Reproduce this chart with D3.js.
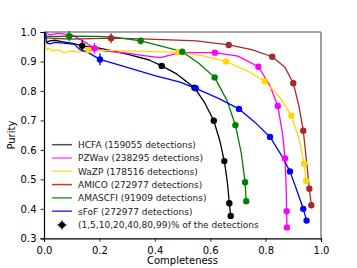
<!DOCTYPE html>
<html><head><meta charset="utf-8">
<script src="https://cdn.jsdelivr.net/npm/d3@7"></script>
<style>body{margin:0;background:#fff}svg{display:block}text{font-family:"DejaVu Sans",sans-serif}</style>
</head><body><svg id="c" width="357" height="268"></svg>
<script>
const names = ["HCFA (159055 detections)","PZWav (238295 detections)","WaZP (178516 detections)","AMICO (272977 detections)","AMASCFI (91909 detections)","sFoF (272977 detections)"];
const colors = ["#000000","#ff00ff","#ffd700","#a52a2a","#008000","#0000ff"];
const legendColors = ["#505050","#ff55ff","#ffe040","#d93030","#30a030","#3333ff"];
const xTicks = [0.0,0.2,0.4,0.6,0.8,1.0];
const yTicks = [0.3,0.4,0.5,0.6,0.7,0.8,0.9,1.0];
const markerLabel = "(1,5,10,20,40,80,99)% of the detections";

const hcfaLine = [[0.005,1.0],[0.01,0.965],[0.02,0.97],[0.04,0.972],[0.06,0.968],[0.08,0.965],[0.1,0.962],[0.138,0.953],[0.2,0.945],[0.3,0.925],[0.38,0.905],[0.425,0.885],[0.48,0.857],[0.543,0.811],[0.58,0.76],[0.613,0.699],[0.635,0.63],[0.651,0.562],[0.662,0.49],[0.669,0.419],[0.674,0.376]];
const hcfaMarks = [[0.138,0.953],[0.425,0.885],[0.543,0.811],[0.613,0.699],[0.651,0.562],[0.669,0.419],[0.674,0.376]];
const hcfaErr = [[0,0.018],[0,0.006],[0,0],[0,0],[0,0],[0,0],[0,0]];

const pzwavLine = [[0.005,1.0],[0.02,0.99],[0.05,0.995],[0.1,0.99],[0.14,0.97],[0.182,0.945],[0.22,0.935],[0.3,0.928],[0.36,0.92],[0.42,0.913],[0.47,0.925],[0.52,0.93],[0.617,0.93],[0.7,0.918],[0.774,0.882],[0.815,0.82],[0.844,0.749],[0.862,0.65],[0.87,0.571],[0.874,0.48],[0.876,0.392],[0.877,0.337]];
const pzwavMarks = [[0.182,0.945],[0.617,0.93],[0.774,0.882],[0.844,0.749],[0.87,0.571],[0.876,0.392],[0.877,0.337]];
const pzwavErr = [[0.012,0.018],[0,0],[0,0],[0,0],[0,0],[0,0],[0,0]];

const wazpLine = [[0.003,0.99],[0.008,0.94],[0.02,0.945],[0.03,0.935],[0.05,0.94],[0.07,0.93],[0.1,0.935],[0.13,0.932],[0.16,0.939],[0.25,0.937],[0.35,0.935],[0.483,0.931],[0.57,0.92],[0.657,0.9],[0.73,0.87],[0.797,0.833],[0.85,0.78],[0.893,0.716],[0.92,0.64],[0.939,0.553],[0.946,0.495]];
const wazpMarks = [[0.16,0.939],[0.483,0.931],[0.657,0.9],[0.797,0.833],[0.893,0.716],[0.939,0.553],[0.946,0.495]];
const wazpErr = [[0,0.01],[0,0],[0,0],[0,0],[0,0],[0,0],[0,0]];

const amicoLine = [[0.003,0.98],[0.05,0.978],[0.1,0.976],[0.242,0.979],[0.35,0.977],[0.455,0.973],[0.55,0.97],[0.667,0.956],[0.75,0.94],[0.824,0.916],[0.87,0.88],[0.9,0.826],[0.92,0.75],[0.936,0.665],[0.948,0.56],[0.958,0.468],[0.965,0.412]];
const amicoMarks = [[0.242,0.979],[0.667,0.956],[0.824,0.916],[0.9,0.826],[0.936,0.665],[0.958,0.468],[0.965,0.412]];
const amicoErr = [[0.015,0.017],[0,0],[0,0],[0,0],[0,0],[0,0],[0,0]];

const amascfiLine = [[0.003,1.0],[0.01,0.985],[0.05,0.985],[0.091,0.986],[0.2,0.985],[0.26,0.982],[0.349,0.97],[0.42,0.953],[0.499,0.933],[0.56,0.893],[0.616,0.846],[0.66,0.769],[0.691,0.684],[0.712,0.59],[0.726,0.49],[0.73,0.426]];
const amascfiMarks = [[0.091,0.986],[0.349,0.97],[0.499,0.933],[0.616,0.846],[0.691,0.684],[0.726,0.49],[0.73,0.426]];
const amascfiErr = [[0,0.017],[0,0.012],[0,0],[0,0],[0,0],[0,0],[0,0]];

const sfofLine = [[0.003,1.0],[0.01,0.963],[0.02,0.96],[0.04,0.965],[0.07,0.962],[0.11,0.958],[0.13,0.94],[0.16,0.93],[0.202,0.907],[0.3,0.88],[0.4,0.852],[0.491,0.83],[0.548,0.809],[0.63,0.775],[0.704,0.739],[0.76,0.695],[0.816,0.644],[0.855,0.585],[0.888,0.527],[0.91,0.47],[0.936,0.4],[0.948,0.36]];
const sfofMarks = [[0.202,0.907],[0.548,0.809],[0.704,0.739],[0.816,0.644],[0.888,0.527],[0.936,0.4],[0.948,0.36]];
const sfofErr = [[0,0.02],[0,0],[0,0],[0,0],[0,0],[0,0],[0,0]];

const lines = [hcfaLine,pzwavLine,wazpLine,amicoLine,amascfiLine,sfofLine];
const marks = [hcfaMarks,pzwavMarks,wazpMarks,amicoMarks,amascfiMarks,sfofMarks];
const errs = [hcfaErr,pzwavErr,wazpErr,amicoErr,amascfiErr,sfofErr];

const svg = d3.select("#c");
const L=44, R=321, T=32, B=238.3;
const x = d3.scaleLinear().domain([0,1]).range([L,R]);
const y = d3.scaleLinear().domain([0.3,1.0]).range([B,T]);

svg.append("line").attr("x1",L).attr("x2",R).attr("y1",T).attr("y2",T).attr("stroke","#888").attr("stroke-width",1.6);
svg.append("line").attr("x1",R).attr("x2",R).attr("y1",T).attr("y2",B).attr("stroke","#888").attr("stroke-width",1.6);

const lineGen = d3.line().x(d=>x(d[0])).y(d=>y(d[1]));
lines.forEach((ln,i)=>{
  svg.append("path").datum(ln).attr("d",lineGen).attr("fill","none").attr("stroke",colors[i]).attr("stroke-width",1.3).attr("stroke-linejoin","round");
});
marks.forEach((mk,i)=>{
  const g = svg.append("g");
  mk.forEach((p,j)=>{
    const e = errs[i][j];
    if(e[1]>0) g.append("line").attr("x1",x(p[0])).attr("x2",x(p[0])).attr("y1",y(p[1]-e[1])).attr("y2",y(p[1]+e[1])).attr("stroke",colors[i]).attr("stroke-width",1.3);
    if(e[0]>0) g.append("line").attr("x1",x(p[0]-e[0])).attr("x2",x(p[0]+e[0])).attr("y1",y(p[1])).attr("y2",y(p[1])).attr("stroke",colors[i]).attr("stroke-width",1.3);
    g.append("circle").attr("cx",x(p[0])).attr("cy",y(p[1])).attr("r",3.2).attr("fill",colors[i]);
  });
});

const xa = svg.append("g").attr("transform",`translate(0,${B})`).call(d3.axisBottom(x).tickValues(xTicks).tickFormat(d3.format(".1f")).tickSizeOuter(0).tickSize(3.5));
const ya = svg.append("g").attr("transform",`translate(${L},0)`).call(d3.axisLeft(y).tickValues(yTicks).tickFormat(d3.format(".1f")).tickSizeOuter(0).tickSize(3.5));
[xa,ya].forEach(a=>{
  a.select(".domain").attr("stroke","#000").attr("stroke-width",1.2);
  a.selectAll(".tick line").attr("stroke","#000").attr("stroke-width",0.8);
  a.selectAll("text").attr("font-size",10).attr("fill","#000").style("font-family","DejaVu Sans");
});
xa.selectAll("text").attr("dy","0.9em");
ya.selectAll("text").attr("dx","-0.1em");

svg.append("text").attr("x",(L+R)/2).attr("y",264).attr("text-anchor","middle").attr("font-size",10).text("Completeness");
svg.append("text").attr("transform",`translate(15,${(T+B)/2}) rotate(-90)`).attr("text-anchor","middle").attr("font-size",10).text("Purity");

const lg = svg.append("g");
const ly0 = 144.7, ldy = 13.3;
names.forEach((n,i)=>{
  const yy = ly0 + i*ldy;
  lg.append("line").attr("x1",52).attr("x2",72).attr("y1",yy).attr("y2",yy).attr("stroke",legendColors[i]).attr("stroke-width",1.5);
  lg.append("text").attr("x",78).attr("y",yy+3.3).attr("font-size",9).attr("fill","#222").text(n);
});
const my = ly0 + 6*ldy + 0.5;
lg.append("line").attr("x1",62).attr("x2",62).attr("y1",my-4.5).attr("y2",my+4.5).attr("stroke","#000").attr("stroke-width",1.3);
lg.append("line").attr("x1",57.5).attr("x2",66.5).attr("y1",my).attr("y2",my).attr("stroke","#000").attr("stroke-width",1.3);
lg.append("circle").attr("cx",62).attr("cy",my).attr("r",3).attr("fill","#000");
lg.append("text").attr("x",78).attr("y",my+3.3).attr("font-size",9).attr("fill","#222").text(markerLabel);
</script></body></html>
